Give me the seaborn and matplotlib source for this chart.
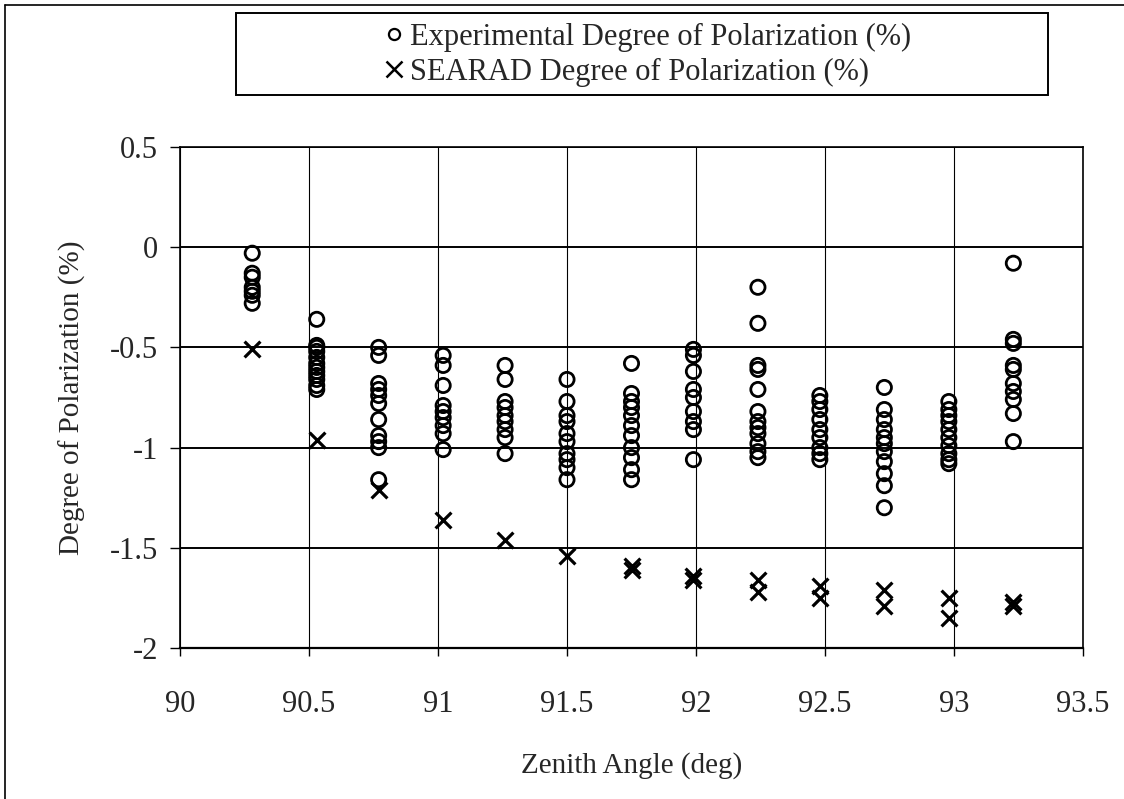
import matplotlib
matplotlib.use("Agg")
import matplotlib.pyplot as plt
from matplotlib.lines import Line2D
from matplotlib.patches import Rectangle
import pandas as pd
import seaborn as sns

# Zenith angles of the measurement groups (deg)
angles = [90.28, 90.53, 90.77, 91.02, 91.26, 91.50, 91.75,
          91.99, 92.24, 92.48, 92.73, 92.98, 93.23]

# Measured degree of polarization (%) per angle
experimental = [
    [-0.03, -0.13, -0.15, -0.20, -0.22, -0.24, -0.28],
    [-0.36, -0.49, -0.50, -0.52, -0.55, -0.58, -0.60, -0.62, -0.64, -0.66, -0.69, -0.71],
    [-0.50, -0.54, -0.68, -0.71, -0.74, -0.78, -0.86, -0.94, -0.97, -1.00, -1.16],
    [-0.54, -0.59, -0.69, -0.79, -0.82, -0.85, -0.89, -0.93, -1.01],
    [-0.59, -0.66, -0.77, -0.80, -0.84, -0.87, -0.91, -0.95, -1.03],
    [-0.66, -0.77, -0.84, -0.87, -0.93, -0.97, -1.03, -1.06, -1.10, -1.16],
    [-0.58, -0.73, -0.77, -0.80, -0.84, -0.89, -0.94, -1.00, -1.05, -1.11, -1.16],
    [-0.51, -0.54, -0.62, -0.71, -0.75, -0.82, -0.87, -0.91, -1.06],
    [-0.20, -0.38, -0.59, -0.61, -0.71, -0.82, -0.87, -0.90, -0.93, -0.98, -1.02, -1.05],
    [-0.74, -0.77, -0.81, -0.86, -0.91, -0.95, -1.00, -1.03, -1.06],
    [-0.70, -0.81, -0.86, -0.91, -0.95, -0.98, -1.02, -1.07, -1.13, -1.19, -1.30],
    [-0.77, -0.81, -0.84, -0.87, -0.91, -0.95, -0.99, -1.03, -1.06, -1.08],
    [-0.08, -0.46, -0.48, -0.59, -0.61, -0.68, -0.72, -0.76, -0.83, -0.97],
]

# SEARAD model degree of polarization (%) per angle
searad = [
    [-0.51],
    [-0.96],
    [-1.21],
    [-1.36],
    [-1.46],
    [-1.54],
    [-1.59, -1.61],
    [-1.64, -1.66],
    [-1.66, -1.72],
    [-1.69, -1.75],
    [-1.71, -1.79],
    [-1.75, -1.85],
    [-1.77, -1.79],
]

x_ticks = [90, 90.5, 91, 91.5, 92, 92.5, 93, 93.5]
x_tick_labels = ["90", "90.5", "91", "91.5", "92", "92.5", "93", "93.5"]
y_ticks = [0.5, 0, -0.5, -1, -1.5, -2]
y_tick_labels = ["0.5", "0", "-0.5", "-1", "-1.5", "-2"]

label_exp = "Experimental Degree of Polarization (%)"
label_sea = "SEARAD Degree of Polarization (%)"

exp_df = pd.DataFrame(
    [(a, v) for a, vals in zip(angles, experimental) for v in vals],
    columns=["angle", "dop"],
)
sea_df = pd.DataFrame(
    [(a, v) for a, vals in zip(angles, searad) for v in vals],
    columns=["angle", "dop"],
)

sns.set_theme(style="white")
plt.rcParams["font.family"] = ["Liberation Serif", "DejaVu Serif"]
plt.rcParams["axes.unicode_minus"] = False

W, H = 1124, 799
fig = plt.figure(figsize=(W / 100, H / 100), dpi=100)
ax = fig.add_axes([180 / W, 1 - 648 / H, (1083 - 180) / W, (648 - 147) / H])

sns.scatterplot(data=exp_df, x="angle", y="dop", ax=ax, marker="o", s=105,
                facecolors="none", edgecolor="black", linewidth=2.0, zorder=3)
sns.scatterplot(data=sea_df, x="angle", y="dop", ax=ax, marker="x", s=130,
                color="black", linewidth=2.3, zorder=3)

ax.set_xlim(90, 93.5)
ax.set_ylim(-2, 0.5)
ax.set_xticks(x_ticks)
ax.set_xticklabels(x_tick_labels)
ax.set_yticks(y_ticks)
ax.set_yticklabels(y_tick_labels)

ax.xaxis.grid(True, color="black", linewidth=0.8)
ax.yaxis.grid(True, color="black", linewidth=1.4)
ax.set_axisbelow(True)
for side in ["left", "right", "top", "bottom"]:
    ax.spines[side].set_visible(True)
    ax.spines[side].set_color("black")
    ax.spines[side].set_linewidth(1.2)
ax.spines["bottom"].set_linewidth(1.6)

ax.tick_params(axis="x", direction="out", length=6, width=1, color="black",
               pad=24, labelsize=22, bottom=True)
ax.tick_params(axis="y", direction="out", length=7, width=1, color="black",
               pad=9, labelsize=22, left=True)

ax.set_xlabel("Zenith Angle (deg)", fontsize=21)
ax.set_ylabel("Degree of Polarization (%)", fontsize=21)
ax.xaxis.set_label_coords(0.5, (648 - 752) / (648 - 147))
ax.yaxis.set_label_coords((86 - 180) / (1083 - 180), 0.5)

# Legend box above the plot
fig.patches.append(Rectangle((236 / W, 1 - 95 / H), (1048 - 236) / W, (95 - 13) / H,
                             transform=fig.transFigure, fill=False,
                             edgecolor="black", linewidth=1.4))
handles = [
    Line2D([], [], linestyle="none", marker="o", markersize=8, markerfacecolor="none",
           markeredgecolor="black", markeredgewidth=1.6),
    Line2D([], [], linestyle="none", marker="x", markersize=12, color="black",
           markeredgewidth=1.8),
]
fig.legend(handles, [label_exp, label_sea], loc="center",
           bbox_to_anchor=(648 / W, 1 - 55 / H), frameon=False, fontsize=22,
           handlelength=0.6, handletextpad=0.2, labelspacing=0.2, borderpad=0)

# Page border on the left and top
fig.add_artist(Line2D([5 / W, 5 / W], [0, 1 - 5 / H], transform=fig.transFigure,
                      color="black", linewidth=1.2))
fig.add_artist(Line2D([5 / W, 1], [1 - 5 / H, 1 - 5 / H], transform=fig.transFigure,
                      color="black", linewidth=1.2))

fig.savefig("out.png", dpi=100, facecolor="white")
